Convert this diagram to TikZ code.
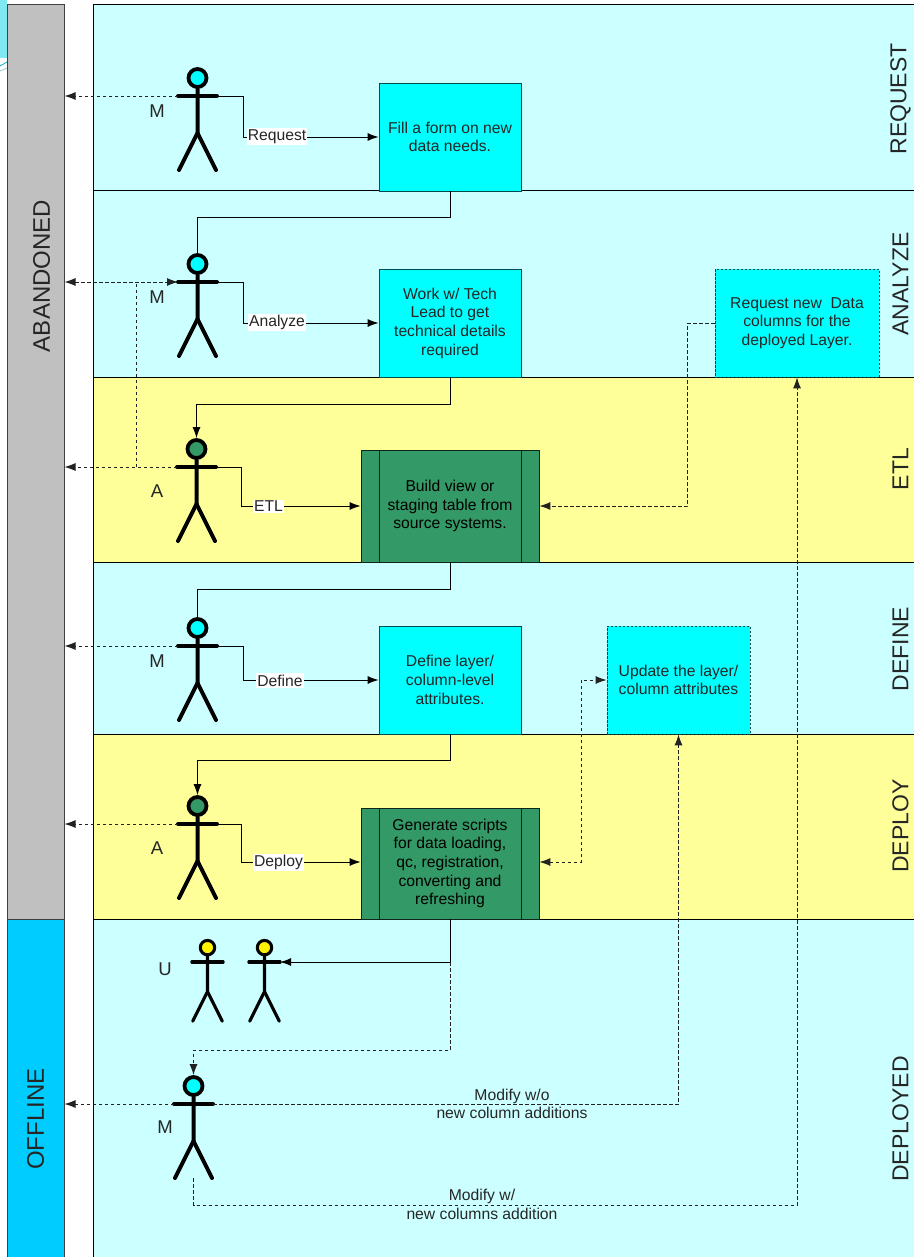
\documentclass[tikz,border=0pt]{standalone}
\usepackage{fontspec}
\setmainfont{Liberation Sans}
\usetikzlibrary{arrows.meta,calc}
\definecolor{lanecyan}{HTML}{CCFFFF}
\definecolor{laneyellow}{HTML}{FFFF99}
\definecolor{boxcyan}{HTML}{00FFFF}
\definecolor{boxgreen}{HTML}{339966}
\definecolor{statusgray}{HTML}{C0C0C0}
\definecolor{statusblue}{HTML}{00CCFF}
\definecolor{linegray}{HTML}{222222}
\definecolor{cornercyan}{HTML}{7FE8F0}
\newcommand{\fs}[1]{\fontsize{#1}{#1}\selectfont}
\tikzset{
  x=1pt,y=-1pt,
  lane/.style={draw=black,line width=1pt},
  bandtext/.style={rotate=90,font=\fs{23},text=black!85},
  actortext/.style={font=\fs{18.5},text=black!85},
  flowbox/.style={draw=black!70!boxcyan,line width=.8pt,fill=boxcyan,align=center,font=\fs{15.7},inner sep=0pt,text=black!85},
  dashbox/.style={flowbox,dash pattern=on 2.5pt off 1.5pt},
  greenbox/.style={flowbox,draw=black!75!boxgreen,fill=boxgreen,text=black},
  conn/.style={draw=black,line width=.9pt},
  dconn/.style={draw=linegray,line width=.9pt,dash pattern=on 3.5pt off 2.5pt},
  tip/.style={-{Latex[length=11pt,width=8pt]}},
  btip/.style={{Latex[length=11pt,width=8pt]}-{Latex[length=11pt,width=8pt]}},
  flowlabel/.style={fill=white,inner xsep=1pt,inner ysep=1.5pt,font=\fs{15.7},text=black!85},
  linelabel/.style={align=center,font=\fs{15.7},text=black!85,inner sep=0pt},
  limb/.style={draw=black,line cap=round},
}
% name, x, arm y, head colour, scale
\newcommand{\stick}[5]{%
  \node[circle,draw=black,fill=#4,line width=3.8pt*#5,minimum size=#5*18pt,inner sep=0pt] (#1head) at (#2,#3-18*#5) {};
  \coordinate (#1l) at (#2-19.5*#5,#3);
  \coordinate (#1r) at (#2+19.5*#5,#3);
  \coordinate (#1hip) at (#2,#3+37*#5);
  \coordinate (#1footl) at (#2-18.5*#5,#3+74*#5);
  \coordinate (#1footr) at (#2+18.5*#5,#3+74*#5);
  \coordinate (#1base) at (#2,#3+74*#5);
  \draw[limb,line width=4pt*#5] (#1l) -- (#1r);
  \draw[limb,line width=4pt*#5] (#1head.south) -- (#1hip) -- (#1footl);
  \draw[limb,line width=4pt*#5] (#1hip) -- (#1footr);
}
\begin{document}
\begin{tikzpicture}
\useasboundingbox (0,0) rectangle (913,1257);
% corner remnant
\fill[cornercyan] (0,0) rectangle (6.5,58);
\draw[teal!60!cyan,line width=.8pt] (0,66) -- (7,62);
\draw[teal!40!white,line width=.8pt] (0,71) -- (7,68);
% status columns
\draw[lane,draw=black!75,fill=statusgray] (7.5,5) rectangle (64.5,919.5);
\draw[lane,draw=black!75,fill=statusblue] (7.5,919.5) rectangle (64.5,1258);
\node[rotate=90,font=\fs{24},text=black!85,inner sep=0pt] (abandoned) at (41.5,276) {ABANDONED};
\node[rotate=90,font=\fs{24},text=black!85,inner sep=0pt] (offline) at (35.5,1119) {OFFLINE};
\coordinate (gray96) at (64.5,96);
\coordinate (gray282) at (64.5,282);
\coordinate (gray467) at (64.5,467);
\coordinate (gray646) at (64.5,646);
\coordinate (gray824) at (64.5,824);
\coordinate (blue1104) at (64.5,1104);
% lanes
\draw[lane,fill=lanecyan] (93.5,5) rectangle (914,191);
\draw[lane,fill=lanecyan] (93.5,191) rectangle (914,377);
\draw[lane,fill=laneyellow] (93.5,377) rectangle (914,562);
\draw[lane,fill=lanecyan] (93.5,562) rectangle (914,734);
\draw[lane,fill=laneyellow] (93.5,734) rectangle (914,919.5);
\draw[lane,fill=lanecyan] (93.5,919.5) rectangle (914,1258);
\node[bandtext,inner sep=0pt] (t1) at (900.5,99) {REQUEST};
\node[bandtext,inner sep=0pt] (t2) at (900.5,284) {ANALYZE};
\node[bandtext,inner sep=0pt] (t3) at (900.5,469) {ETL};
\node[bandtext,inner sep=0pt] (t4) at (900.5,649) {DEFINE};
\node[bandtext,inner sep=0pt] (t5) at (900.5,826) {DEPLOY};
\node[bandtext,inner sep=0pt] (t6) at (900.5,1119) {DEPLOYED};
% boxes
\node[flowbox,minimum width=142pt,minimum height=108pt] (fill) at (450,137) {Fill a form on new\\[3pt]data needs.};
\node[flowbox,minimum width=142pt,minimum height=108pt] (work) at (450,323) {Work w/ Tech\\[3pt]Lead to get\\[3pt]technical details\\[3pt]required};
\node[dashbox,minimum width=164pt,minimum height=108pt] (reqcol) at (797,323) {Request new\ \ Data\\[3pt]columns for the\\[3pt]deployed Layer.};
\node[greenbox,minimum width=178pt,minimum height=112pt] (build) at (450,506) {Build view or\\[3pt]staging table from\\[3pt]source systems.};
\node[flowbox,minimum width=142pt,minimum height=108pt] (define) at (450,680) {Define layer/\\[3pt]column-level\\[3pt]attributes.};
\node[dashbox,minimum width=143pt,minimum height=108pt] (update) at (678.5,680) {Update the layer/\\[3pt]column attributes};
\node[greenbox,minimum width=178pt,minimum height=111pt] (gen) at (450,863.5) {Generate scripts\\[3pt]for data loading,\\[3pt]qc, registration,\\[3pt]converting and\\[3pt]refreshing};
\draw[draw=black!75!boxgreen,line width=.8pt] (379,450) -- (379,562) (521,450) -- (521,562) (379,808) -- (379,919) (521,808) -- (521,919);
% actors
\stick{mone}{197.5}{96}{boxcyan}{1}
\stick{mtwo}{197.5}{282}{boxcyan}{1}
\stick{aone}{196.5}{467}{boxgreen}{1}
\stick{mthree}{197.5}{646}{boxcyan}{1}
\stick{atwo}{197.5}{824}{boxgreen}{1}
\stick{uone}{207.5}{962}{yellow}{.8}
\stick{utwo}{264.5}{962}{yellow}{.8}
\stick{mfour}{193.5}{1104}{boxcyan}{1}
\node[actortext] (lm1) at (157,111.5) {M};
\node[actortext] (lm2) at (157,297.5) {M};
\node[actortext] (la1) at (157,491) {A};
\node[actortext] (lm3) at (157,661) {M};
\node[actortext] (la2) at (157,848) {A};
\node[actortext] (lu) at (165,969) {U};
\node[actortext] (lm4) at (165,1127.5) {M};
% solid flows from actors to tasks
\draw[conn,tip] (moner) -- ++(26,0) |- (fill.west);
\draw[conn,tip] (mtwor) -- ++(26,0) |- (work.west);
\draw[conn,tip] (aoner) -- ++(25,0) |- (build.west);
\draw[conn,tip] (mthreer) -- ++(26,0) |- (define.west);
\draw[conn,tip] (atwor) -- ++(24,0) |- ($(gen.west)+(0,-1.5)$);
\node[flowlabel] (lrequest) at (277,136.5) {Request};
\node[flowlabel] (lanalyze) at (277,322.5) {Analyze};
\node[flowlabel] (letl) at (268.5,506.5) {ETL};
\node[flowlabel] (ldefine) at (280,680.5) {Define};
\node[flowlabel] (ldeploy) at (278.5,862.5) {Deploy};
% solid flows from tasks to actors
\draw[conn] (fill.south) -- ++(0,26) -| (mtwohead.north);
\draw[conn,tip] (work.south) -- ++(0,27) -| (aonehead.north);
\draw[conn] (build.south) -- ++(0,27) -| (mthreehead.north);
\draw[conn,tip] (define.south) -- ++(0,26) -| (atwohead.north);
\draw[conn,tip] (gen.south) |- (utwor);
% dashed flows to status columns
\draw[dconn,tip] (monel) -- (gray96);
\draw[dconn,btip] (gray282) -- (mtwol);
\draw[dconn,tip] (aonel) -- (gray467);
\draw[dconn,tip] (mthreel) -- (gray646);
\draw[dconn,tip] (atwol) -- (gray824);
\draw[dconn,tip] (mfourl) -- (blue1104);
% dashed rework flows
\draw[dconn] (136,467) -- (136,282);
\draw[dconn,tip] (gen.south) ++(0,43) -- ++(0,88) -| (mfourhead.north);
\draw[dconn,tip] (reqcol.west) -- ++(-27,0) |- (build.east);
\draw[dconn,btip] ($(gen.east)+(0,-1.5)$) -- ++(42,0) |- (update.west);
\draw[dconn,tip] (mfourr) -| (update.south);
\draw[dconn,tip] (mfourbase) -- ++(0,27) -| (reqcol.south);
\node[linelabel] (lmodone) at (512,1104) {Modify w/o\\[3pt]new column additions};
\node[linelabel] (lmodtwo) at (482,1204.5) {Modify w/\\[3pt]new columns addition};
\end{tikzpicture}
\end{document}
